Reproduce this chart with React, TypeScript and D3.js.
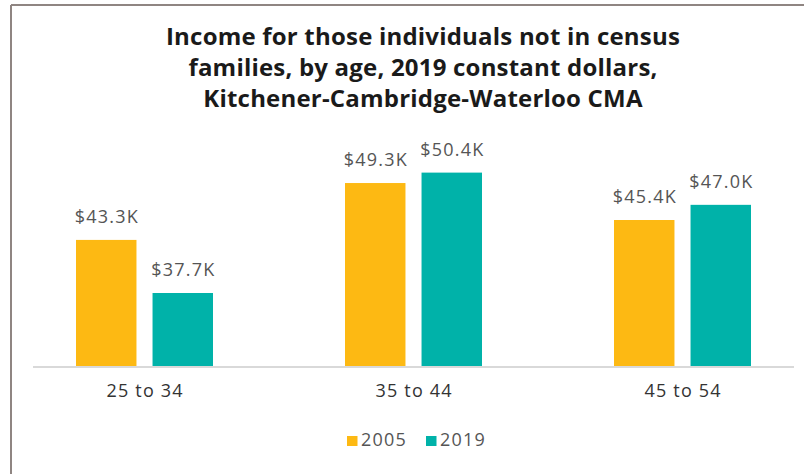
import React from "react";
import * as d3 from "d3";

const categories = ["25 to 34", "35 to 44", "45 to 54"];
const seriesNames = ["2005", "2019"];
const values2005 = [43.3, 49.3, 45.4];
const values2019 = [37.7, 50.4, 47.0];
const valueLabels2005 = ["$43.3K", "$49.3K", "$45.4K"];
const valueLabels2019 = ["$37.7K", "$50.4K", "$47.0K"];
const titleLines = [
  "Income for those individuals not in census",
  "families, by age, 2019 constant dollars,",
  "Kitchener-Cambridge-Waterloo CMA",
];

const colors = ["#FDB913", "#00B2A9"];
const font = "'Open Sans', 'Noto Sans', sans-serif";

export default function App() {
  const W = 804, H = 474;
  const baseY = 366;
  const y = d3.scaleLinear().domain([30, 55]).range([baseY, 129]);
  const x = d3.scaleBand<string>().domain(categories).range([10, 817]).padding(0);
  const groupW = 137;
  const inner = d3.scaleBand<string>().domain(seriesNames).range([0, groupW]).paddingInner(0.21);
  const series = [
    { name: "2005", vals: values2005, labels: valueLabels2005 },
    { name: "2019", vals: values2019, labels: valueLabels2019 },
  ];
  return (
    <svg width={W} height={H} style={{ position: "absolute", left: 0, top: 0 }}>
      <rect x={0} y={0} width={W} height={H} fill="#fff" />
      <line x1={11} y1={5} x2={W} y2={5} stroke="#8f8582" strokeWidth={2} />
      <line x1={11} y1={5} x2={11} y2={H} stroke="#8f8582" strokeWidth={2} />
      {titleLines.map((t, i) => (
        <text key={i} x={423} y={45 + i * 31} textAnchor="middle" fontFamily={font}
          fontWeight={700} fontSize={24} letterSpacing={0.2} fill="#1a1a1a">{t}</text>
      ))}
      {categories.map((c, ci) => {
        const gx = (x(c) as number) + x.bandwidth() / 2 - groupW / 2;
        return (
          <g key={c}>
            {series.map((s, si) => {
              const bx = gx + (inner(s.name) as number);
              const top = y(s.vals[ci]);
              return (
                <g key={s.name}>
                  <rect x={bx} y={top} width={inner.bandwidth()} height={baseY - top} fill={colors[si]} />
                  <text x={bx + inner.bandwidth() / 2 + 0.6} y={top - 17} textAnchor="middle"
                    fontFamily={font} fontSize={18} letterSpacing={1.2} fill="#555">{s.labels[ci]}</text>
                </g>
              );
            })}
            <text x={(x(c) as number) + x.bandwidth() / 2 + 0.6} y={397} textAnchor="middle"
              fontFamily={font} fontSize={18} letterSpacing={1.2} fill="#333">{c}</text>
          </g>
        );
      })}
      <line x1={33} y1={baseY + 1} x2={794} y2={baseY + 1} stroke="#d9d9d9" strokeWidth={2} />
      {seriesNames.map((n, i) => {
        const lx = 347 + i * 79;
        return (
          <g key={n}>
            <rect x={lx} y={436} width={10.5} height={10} fill={colors[i]} />
            <text x={lx + 14} y={446} fontFamily={font} fontSize={18} letterSpacing={1.2} fill="#555">{n}</text>
          </g>
        );
      })}
    </svg>
  );
}
